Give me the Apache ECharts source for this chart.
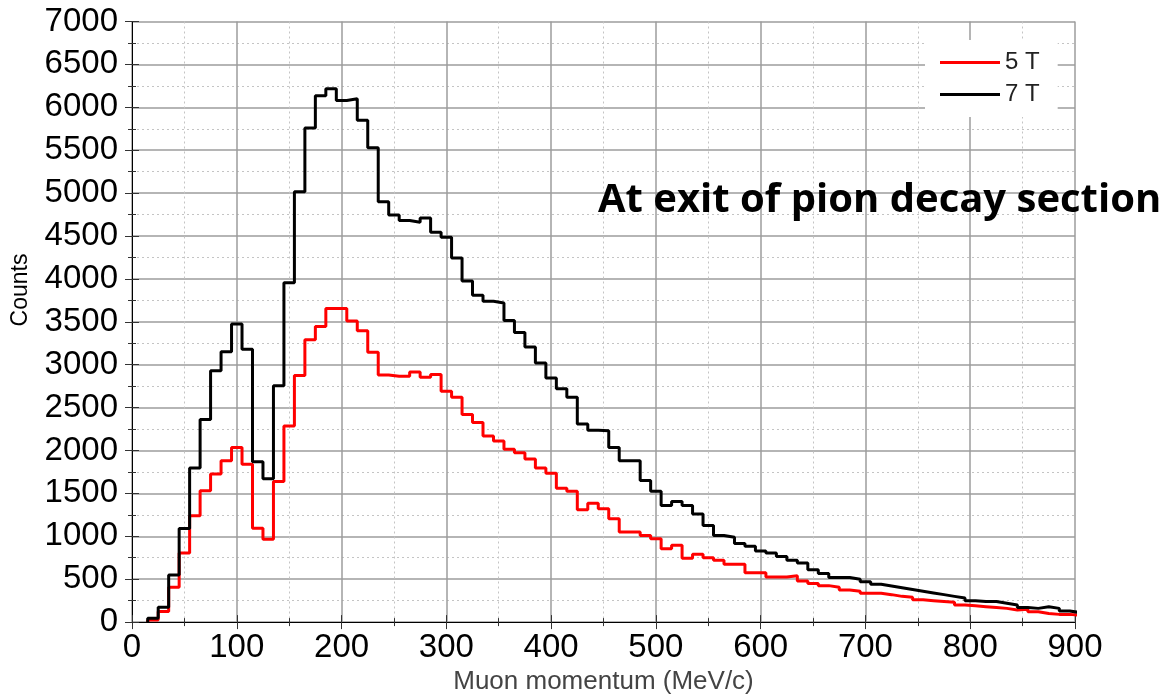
<!DOCTYPE html>
<html>
<head>
<meta charset="utf-8">
<script src="https://cdn.jsdelivr.net/npm/echarts@6/dist/echarts.min.js"></script>
<style>
html,body{margin:0;padding:0;background:#fff;}
#chart{width:1167px;height:700px;}
</style>
</head>
<body>
<div id="chart"></div>
<script>
// Bin centres (MeV/c), bin width 10 MeV/c
var binCenters = [20,30,40,50,60,70,80,90,100,110,120,130,140,150,160,170,180,190,200,
  210,220,230,240,250,260,270,280,290,300,310,320,330,340,350,360,370,380,390,400,
  410,420,430,440,450,460,470,480,490,500,510,520,530,540,550,560,570,580,590,600,
  610,620,630,640,650,660,670,680,690,700,710,720,730,740,750,760,770,780,790,800,
  810,820,830,840,850,860,870,880,890,900];

// 5 T counts
var counts5T = [25,125,405,805,1240,1530,1725,1880,2035,1840,1095,965,1640,2285,2875,3290,3445,3655,3655,
  3510,3395,3145,2880,2865,2865,2915,2855,2885,2690,2620,2420,2325,2170,2110,2015,1975,1900,1795,1735,
  1560,1525,1310,1385,1320,1205,1050,1050,1010,970,855,895,745,790,750,720,675,675,575,575,
  525,525,540,480,450,425,405,375,360,335,335,320,300,290,260,250,240,230,200,190,
  180,170,160,140,150,120,100,90,90,80];

// 7 T counts
var counts7T = [45,172,550,1090,1795,2360,2930,3150,3475,3180,1870,1670,2755,3955,5015,5760,6135,6215,6080,
  6100,5850,5530,4900,4745,4680,4660,4710,4545,4485,4245,3975,3810,3740,3720,3515,3375,3205,3020,2845,
  2720,2620,2310,2235,2230,2035,1880,1880,1650,1525,1360,1405,1360,1260,1125,1010,990,915,885,830,
  805,765,720,690,610,565,520,520,500,470,440,420,400,380,360,340,320,300,280,250,
  240,240,220,200,170,160,180,160,130,110];

var xTicks = [0,100,200,300,400,500,600,700,800,900];
var yTicks = [0,500,1000,1500,2000,2500,3000,3500,4000,4500,5000,5500,6000,6500,7000];
var seriesNames = ['5 T', '7 T'];

var binWidth = 10;
function histPoints(vals) {
  var pts = [[binCenters[0] - binWidth / 2, 0]];
  for (var i = 0; i < vals.length; i++) {
    pts.push([binCenters[i] - binWidth / 2, vals[i]]);
  }
  pts.push([binCenters[vals.length - 1] + binWidth / 2, vals[vals.length - 1]]);
  return pts;
}
function plain(v) { return String(v); }

var FONT = '"Liberation Sans", Arial, sans-serif';
var chart = echarts.init(document.getElementById('chart'), null, {renderer: 'canvas'});

var xBase = {
  type: 'value', min: xTicks[0], max: xTicks[xTicks.length - 1], interval: 100,
  axisLine: {show: true, lineStyle: {color: '#000', width: 1}},
  axisTick: {show: true, inside: true, length: 7, lineStyle: {color: '#333'}},
  minorTick: {show: true, splitNumber: 2, length: 4, lineStyle: {color: '#333'}},
};
var yBase = {
  type: 'value', min: yTicks[0], max: yTicks[yTicks.length - 1], interval: 500,
  axisLine: {show: true, lineStyle: {color: '#000', width: 1}},
  axisTick: {show: true, inside: true, length: 7, lineStyle: {color: '#333'}},
  minorTick: {show: true, splitNumber: 2, length: 4, lineStyle: {color: '#333'}},
};

chart.setOption({
  animation: false,
  backgroundColor: '#fff',
  grid: {left: 132, right: 92, top: 21.5, bottom: 74.5, containLabel: false},
  xAxis: [
    Object.assign({}, xBase, {
      position: 'bottom',
      name: 'Muon momentum (MeV/c)',
      nameLocation: 'middle', nameGap: 46,
      nameTextStyle: {fontFamily: FONT, fontSize: 26, color: '#444'},
      axisLabel: {fontFamily: FONT, fontSize: 33, color: '#000', margin: 9, formatter: plain},
      splitLine: {show: true, lineStyle: {color: '#9c9c9c', width: 1.5}},
      minorSplitLine: {show: true, lineStyle: {color: '#c4c4c4', width: 1, type: [2, 3]}}
    }),
    Object.assign({}, xBase, {
      position: 'top', axisLabel: {show: false}, splitLine: {show: false}
    })
  ],
  yAxis: [
    Object.assign({}, yBase, {
      position: 'left',
      axisLabel: {fontFamily: FONT, fontSize: 33, color: '#000', margin: 14, formatter: plain},
      splitLine: {show: true, lineStyle: {color: '#9c9c9c', width: 1.5}},
      minorSplitLine: {show: true, lineStyle: {color: '#c4c4c4', width: 1, type: [2, 3]}}
    }),
    Object.assign({}, yBase, {
      position: 'right', axisLabel: {show: false}, splitLine: {show: false}
    })
  ],
  legend: {
    orient: 'vertical', left: 925, top: 40,
    padding: [10, 18, 10, 15], itemGap: 7,
    itemWidth: 60, itemHeight: 3, icon: 'rect',
    backgroundColor: '#fff',
    textStyle: {fontFamily: FONT, fontSize: 24, color: '#222', lineHeight: 25},
    data: seriesNames
  },
  graphic: [
    {type: 'text', left: 598, top: 181, z: 100,
     style: {text: 'At exit of pion decay section', font: 'bold 40px "Open Sans", sans-serif', fill: '#000'}},
    {type: 'text', x: 21, y: 290, rotation: Math.PI / 2, z: 100,
     style: {text: 'Counts', font: '23px "Liberation Sans", Arial, sans-serif', fill: '#000', align: 'center', verticalAlign: 'middle'}}
  ],
  series: [
    {name: seriesNames[0], type: 'line', step: 'end', symbol: 'none', xAxisIndex: 0, yAxisIndex: 0,
     lineStyle: {color: '#ff0000', width: 3}, itemStyle: {color: '#ff0000'},
     data: histPoints(counts5T)},
    {name: seriesNames[1], type: 'line', step: 'end', symbol: 'none', xAxisIndex: 0, yAxisIndex: 0,
     lineStyle: {color: '#000000', width: 3}, itemStyle: {color: '#000000'},
     data: histPoints(counts7T)}
  ]
});
</script>
</body>
</html>
